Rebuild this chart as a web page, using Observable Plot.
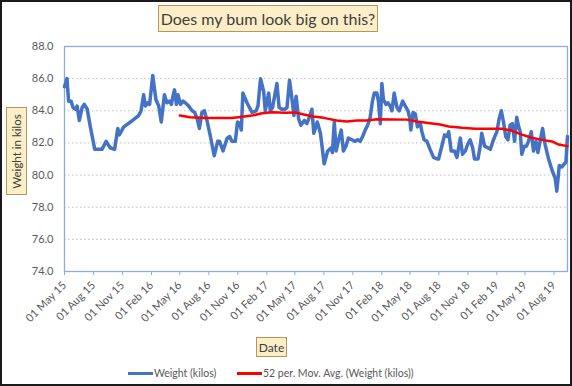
<!DOCTYPE html>
<html>
<head>
<meta charset="utf-8">
<script src="https://cdn.jsdelivr.net/npm/d3@7"></script>
<script src="https://cdn.jsdelivr.net/npm/@observablehq/plot@0.6"></script>
<style>
  html, body { margin: 0; padding: 0; background: #fff; }
  #wrap { position: relative; width: 572px; height: 386px; overflow: hidden; background: #fff; font-family: Lato, "Open Sans", sans-serif; }
  #frame { position: absolute; left: 0; top: 0; width: 572px; height: 386px; box-sizing: border-box; border: 2px solid #1a1a1a; pointer-events: none; }
  #chart { position: absolute; left: 0; top: 0; }
  .box { position: absolute; background: #fcefc8; border: 1px solid #b8955a; color: #404040; box-sizing: border-box; display: flex; align-items: center; justify-content: center; white-space: nowrap; }
  #title { left: 158px; top: 5px; width: 220px; height: 27px; font-size: 16px; }
  #ylab { left: 6px; top: 107px; width: 21px; height: 88px; font-size: 11.5px; }
  #ylab span { display: inline-block; transform: rotate(-90deg); }
  #xlab { left: 256px; top: 337px; width: 31px; height: 20px; font-size: 12px; }
  .leg { position: absolute; top: 366px; font-size: 10.5px; color: #595959; white-space: nowrap; line-height: 14px; }
  .sw { position: absolute; height: 3px; top: 372px; }
</style>
</head>
<body>
<div id="wrap">
  <div id="chart"></div>
  <div id="title" class="box">Does my bum look big on this?</div>
  <div id="ylab" class="box"><span>Weight in kilos</span></div>
  <div id="xlab" class="box">Date</div>
  <div class="sw" style="left:128px;width:25px;background:#4472c4;"></div>
  <div class="leg" style="left:154px;">Weight (kilos)</div>
  <div class="sw" style="left:237px;width:25px;background:#ff0000;"></div>
  <div class="leg" style="left:263px;">52 per. Mov. Avg. (Weight (kilos))</div>
  <div id="frame"></div>
</div>
<script>
const weightDates = [
  "2015-05-01","2015-05-09","2015-05-11","2015-05-14","2015-05-22","2015-05-28","2015-06-05","2015-06-10","2015-06-17","2015-06-26",
  "2015-07-03","2015-07-12","2015-07-22","2015-08-05","2015-08-28","2015-09-10","2015-09-23","2015-10-07","2015-10-17","2015-10-22",
  "2015-11-05","2015-11-26","2015-12-22","2015-12-30","2016-01-07","2016-01-13","2016-01-20","2016-01-26","2016-02-05","2016-02-15",
  "2016-02-24","2016-03-03","2016-03-13","2016-03-21","2016-03-29","2016-04-04","2016-04-09","2016-04-14","2016-04-20","2016-04-25",
  "2016-05-03","2016-05-11","2016-05-18","2016-05-29","2016-06-09","2016-06-17","2016-06-25","2016-07-02","2016-07-10","2016-07-18",
  "2016-07-26","2016-08-06","2016-08-18","2016-08-29","2016-09-04","2016-09-15","2016-09-28","2016-10-06","2016-10-13","2016-10-24",
  "2016-10-31","2016-11-07","2016-11-12","2016-11-17","2016-11-30","2016-12-16","2016-12-29","2017-01-04","2017-01-12","2017-01-22",
  "2017-01-27","2017-02-07","2017-02-12","2017-02-19","2017-03-05","2017-03-12","2017-03-21","2017-03-31","2017-04-06","2017-04-14",
  "2017-04-22","2017-04-28","2017-05-05","2017-05-13","2017-05-20","2017-05-31","2017-06-08","2017-06-16","2017-06-24","2017-06-30",
  "2017-07-11","2017-07-14","2017-07-21","2017-08-02","2017-08-13","2017-08-24","2017-08-28","2017-09-03","2017-09-09","2017-09-17",
  "2017-09-25","2017-10-02","2017-10-10","2017-10-18","2017-10-29","2017-11-08","2017-11-16","2017-11-24","2017-12-02","2017-12-10",
  "2017-12-18","2017-12-26","2018-01-02","2018-01-08","2018-01-16","2018-01-21","2018-01-27","2018-02-01","2018-02-06","2018-02-14",
  "2018-02-20","2018-02-27","2018-03-05","2018-03-12","2018-03-21","2018-03-28","2018-04-08","2018-04-16","2018-04-25","2018-04-30",
  "2018-05-04","2018-05-11","2018-05-18","2018-05-25","2018-06-03","2018-06-08","2018-06-15","2018-06-24","2018-07-04","2018-07-15",
  "2018-07-26","2018-07-31","2018-08-09","2018-08-19","2018-08-27","2018-09-01","2018-09-09","2018-09-19","2018-09-27","2018-10-08",
  "2018-10-15","2018-10-24","2018-10-31","2018-11-08","2018-11-16","2018-11-22","2018-12-03","2018-12-10","2018-12-15","2018-12-24",
  "2019-01-03","2019-01-11","2019-01-21","2019-02-01","2019-02-08","2019-02-15","2019-02-22","2019-03-01","2019-03-08","2019-03-15",
  "2019-03-22","2019-03-29","2019-04-05","2019-04-10","2019-04-16","2019-04-21","2019-04-29","2019-05-06","2019-05-12","2019-05-21",
  "2019-05-28","2019-06-05","2019-06-11","2019-06-18","2019-06-26","2019-07-04","2019-07-15","2019-07-26","2019-08-05","2019-08-10",
  "2019-08-18","2019-08-26","2019-09-03","2019-09-08","2019-09-13"
];
const weightKilos = [
  85.5,86.0,85.4,84.6,84.6,84.2,84.1,84.3,83.4,84.2,
  84.4,84.1,83.0,81.6,81.6,82.1,81.7,81.6,82.9,82.5,
  83.0,83.3,83.7,84.0,85.0,84.3,84.5,84.4,86.2,84.7,
  84.3,83.3,85.0,84.5,84.6,84.4,84.9,85.3,84.4,85.0,
  84.4,84.6,84.5,84.3,84.0,83.9,83.5,82.9,83.9,84.0,
  83.4,82.4,81.2,82.1,82.1,81.5,82.3,82.4,82.1,82.1,
  83.3,83.2,82.8,85.1,84.5,83.9,84.0,84.3,86.0,85.2,
  84.0,85.1,84.0,84.2,85.7,84.2,84.1,84.1,84.2,85.9,
  84.7,83.7,84.9,83.5,83.1,83.4,83.2,83.6,84.1,82.6,
  83.3,83.1,82.6,80.7,81.5,81.7,81.4,83.3,81.5,82.2,
  82.8,81.5,81.8,82.3,82.2,82.1,82.2,82.1,82.4,82.8,
  83.1,83.6,84.6,85.1,85.1,84.6,83.2,85.7,84.7,84.4,
  84.5,84.3,84.0,85.1,84.2,84.0,84.6,84.3,84.0,83.6,
  82.8,83.9,83.8,83.0,83.2,82.7,82.2,82.1,81.6,81.1,
  81.0,81.0,81.7,82.5,82.4,82.7,81.5,81.5,81.1,82.3,
  81.3,81.5,81.9,82.2,81.7,81.0,81.0,81.8,82.6,81.8,
  81.7,81.6,82.2,82.7,83.5,84.0,83.3,82.4,82.2,83.1,
  83.2,82.1,83.6,83.1,82.7,81.3,81.8,81.8,82.1,82.7,
  81.5,82.1,81.4,82.1,82.9,81.9,81.0,80.3,79.8,79.0,
  80.6,80.5,80.7,80.8,82.4
];
const avgDates = [
  "2016-05-01","2016-06-03","2016-07-21","2016-10-13","2016-11-03","2016-12-16","2017-01-17","2017-02-17","2017-03-31","2017-05-02",
  "2017-05-29","2017-06-29","2017-07-31","2017-09-11","2017-10-13","2017-11-14","2017-12-16","2018-01-16","2018-04-21","2018-05-23",
  "2018-07-04","2018-08-05","2018-09-01","2018-10-13","2018-11-24","2019-02-17","2019-03-20","2019-04-21","2019-05-23","2019-06-24",
  "2019-07-26","2019-08-16","2019-09-13"
];
const avgKilos = [
  83.70,83.60,83.55,83.55,83.60,83.70,83.85,83.91,83.88,83.90,
  83.77,83.64,83.56,83.40,83.33,83.40,83.40,83.48,83.45,83.33,
  83.23,83.15,83.02,82.94,82.88,82.88,82.77,82.52,82.32,82.19,
  82.09,81.90,81.80
];
const xTickDates = [
  "2015-05-01","2015-08-01","2015-11-01","2016-02-01","2016-05-01","2016-08-01","2016-11-01","2017-02-01","2017-05-01","2017-08-01",
  "2017-11-01","2018-02-01","2018-05-01","2018-08-01","2018-11-01","2019-02-01","2019-05-01","2019-08-01"
];
const yTicks = [74, 76, 78, 80, 82, 84, 86, 88];
const yGrid = [76, 78, 80, 82, 84, 86];

const weight = weightDates.map((d, i) => ({date: new Date(d), kilos: weightKilos[i]}));
const avg = avgDates.map((d, i) => ({date: new Date(d), kilos: avgKilos[i]}));
const xTicks = xTickDates.map(d => new Date(d));
const fmt = d3.utcFormat("%d %b %y");

const chart = Plot.plot({
  width: 572,
  height: 340,
  marginLeft: 64,
  marginRight: 5,
  marginTop: 46,
  marginBottom: 69,
  style: {fontFamily: "Lato, 'Open Sans', sans-serif", fontSize: "11px", background: "transparent", overflow: "visible"},
  x: {type: "utc", domain: [new Date(weightDates[0]), new Date(weightDates[weightDates.length - 1])]},
  y: {domain: [74, 88]},
  marks: [
    Plot.gridY(yGrid, {stroke: "#c0c0c0", strokeOpacity: 1, strokeDasharray: "1.5,2.5"}),
    Plot.frame({stroke: "#8faadc", strokeWidth: 1.3}),
    Plot.axisY(yTicks, {tickSize: 0, tickPadding: 11, tickFormat: d3.format(".1f"), fill: "#595959", fontSize: 11, label: null}),
    Plot.axisX(xTicks, {tickSize: 4, tickPadding: 8, tickRotate: -45, tickFormat: fmt, stroke: "#8faadc", fill: "#595959", fontSize: 11, label: null}),
    Plot.line(weight, {x: "date", y: "kilos", stroke: "#4472c4", strokeWidth: 3.5, strokeLinejoin: "round"}),
    Plot.line(avg, {x: "date", y: "kilos", stroke: "#ff0000", strokeWidth: 2.5})
  ]
});
document.getElementById("chart").appendChild(chart);
</script>
</body>
</html>
